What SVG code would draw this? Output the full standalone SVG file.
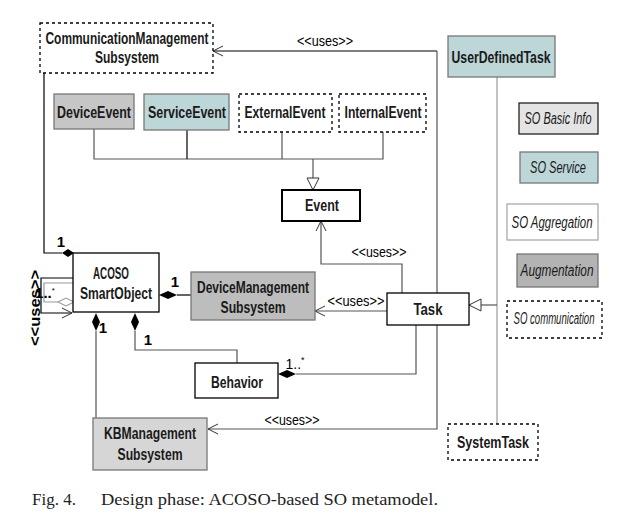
<svg xmlns="http://www.w3.org/2000/svg" width="619" height="531" viewBox="0 0 619 531">
<defs>
<style>
.t{font-family:"Liberation Sans",Arial,sans-serif;font-size:16px;font-weight:bold;fill:#1a1a1a;text-anchor:middle}
.i{font-style:italic;font-weight:normal}
.box{stroke:#000;stroke-width:1.3}
.gbox{stroke:#777;stroke-width:1.3}
.dash{fill:#fff;stroke:#000;stroke-width:1.3;stroke-dasharray:3,3}
.ln{fill:none;stroke:#555;stroke-width:1.2}
.lk{fill:none;stroke:#000;stroke-width:1.2}
.gray{fill:none;stroke:#999;stroke-width:1.2}
.lab{font-family:"Liberation Sans",Arial,sans-serif;font-size:14px;fill:#000;text-anchor:middle}
.num{font-family:"Liberation Sans",Arial,sans-serif;font-size:15px;font-weight:bold;fill:#000;text-anchor:middle}
.cap{font-family:"Liberation Serif","Times New Roman",serif;font-size:17px;fill:#222}
</style>
<marker id="open" markerWidth="12" markerHeight="12" refX="11" refY="6" orient="auto" markerUnits="userSpaceOnUse">
<path d="M1,1 L11,6 L1,11" fill="none" stroke="#333" stroke-width="1"/>
</marker>
<marker id="tri" markerWidth="14" markerHeight="14" refX="13" refY="7" orient="auto" markerUnits="userSpaceOnUse">
<path d="M1,1 L13,7 L1,13 Z" fill="#fff" stroke="#333" stroke-width="1"/>
</marker>
</defs>
<rect width="619" height="531" fill="#fff"/>

<g id="connectors">
<polyline class="lk" points="437,51 213,51" marker-end="url(#open)"/>
<text class="lab" x="325" y="46" textLength="56" lengthAdjust="spacingAndGlyphs">&lt;&lt;uses&gt;&gt;</text>
<polyline class="ln" points="437,51 437,429 208,429" marker-end="url(#open)"/>
<text class="lab" x="292" y="425" textLength="55" lengthAdjust="spacingAndGlyphs">&lt;&lt;uses&gt;&gt;</text>
<polyline class="lk" points="44,73 44,253 62,253"/>
<path d="M62,253 L68,249 L74,253 L68,257 Z" fill="#000"/>
<text class="num" x="61" y="247">1</text>
<polyline class="ln" points="94,129 94,159 383,159 383,132"/>
<line class="lk" x1="187" y1="130" x2="187" y2="159"/>
<line class="ln" x1="282" y1="132" x2="282" y2="159"/>
<line class="ln" x1="313" y1="159" x2="313" y2="190" marker-end="url(#tri)"/>
<line class="lk" x1="191" y1="295" x2="177" y2="295"/>
<path d="M159,295 L168,291 L177,295 L168,299 Z" fill="#000"/>
<text class="num" x="175" y="287">1</text>
<line class="ln" x1="96" y1="331" x2="96" y2="418"/>
<path d="M96,313 L100,322 L96,331 L92,322 Z" fill="#000"/>
<text class="num" x="103" y="333">1</text>
<polyline class="ln" points="135,331 135,350 237,350 237,363"/>
<path d="M135,313 L139,322 L135,331 L131,322 Z" fill="#000"/>
<text class="num" x="148" y="345">1</text>
<polyline class="ln" points="296,374 416,374 416,325"/>
<path d="M278,374 L287,370 L296,374 L287,378 Z" fill="#000"/>
<text class="lab" x="295" y="369" font-size="13" text-anchor="start">1..<tspan font-size="9" dy="-6">*</tspan></text>
<line class="ln" x1="387" y1="311" x2="315" y2="311" marker-end="url(#open)"/>
<text class="lab" x="356" y="306" textLength="57" lengthAdjust="spacingAndGlyphs">&lt;&lt;uses&gt;&gt;</text>
<polyline class="ln" points="402,293 402,264 321,264 321,221" marker-end="url(#open)"/>
<text class="lab" x="379" y="257" textLength="55" lengthAdjust="spacingAndGlyphs">&lt;&lt;uses&gt;&gt;</text>
<line class="gray" x1="497" y1="77" x2="497" y2="424"/>
<line class="ln" x1="497" y1="305" x2="469" y2="305" marker-end="url(#tri)"/>
<polyline class="lk" points="73,278 41,278 41,313 72,313" marker-end="url(#open)"/>
<polyline class="gray" points="73,283 44,283 44,302 58,302"/>
<path d="M58,302 L66,298 L74,302 L66,306 Z" fill="#fff" stroke="#999" stroke-width="1.1"/>
<text class="num" x="45" y="298" font-size="11" text-anchor="start">1..<tspan font-size="8" font-weight="normal" dy="-5">*</tspan></text>
<text class="num" x="0" y="0" font-size="15" textLength="76" lengthAdjust="spacingAndGlyphs" transform="translate(40,308) rotate(-90)">&lt;&lt;uses&gt;&gt;</text>
</g>

<g id="CommunicationManagementSubsystem">
<rect class="dash" x="40" y="23" width="173" height="50"/>
<text class="t" x="127" y="44" font-size="15" textLength="163" lengthAdjust="spacingAndGlyphs">CommunicationManagement</text>
<text class="t" x="127" y="63" font-size="15" textLength="64" lengthAdjust="spacingAndGlyphs">Subsystem</text>
</g>
<g id="DeviceEvent">
<rect class="gbox" x="54" y="94" width="80" height="35" fill="#c6c6c6"/>
<text class="t" x="94" y="118" textLength="74" lengthAdjust="spacingAndGlyphs">DeviceEvent</text>
</g>
<g id="ServiceEvent">
<rect class="gbox" x="144" y="94" width="85" height="36" fill="#bdd6d8"/>
<text class="t" x="187" y="118" textLength="78" lengthAdjust="spacingAndGlyphs">ServiceEvent</text>
</g>
<g id="ExternalEvent">
<rect class="dash" x="239" y="94" width="93" height="38"/>
<text class="t" x="285" y="118" textLength="81" lengthAdjust="spacingAndGlyphs">ExternalEvent</text>
</g>
<g id="InternalEvent">
<rect class="dash" x="339" y="94" width="87" height="38"/>
<text class="t" x="383" y="118" textLength="77" lengthAdjust="spacingAndGlyphs">InternalEvent</text>
</g>
<g id="Event">
<rect x="282" y="190" width="78" height="31" fill="#fff" stroke="#000" stroke-width="2"/>
<text class="t" x="322" y="211" font-size="15" textLength="34" lengthAdjust="spacingAndGlyphs">Event</text>
</g>
<g id="ACOSOSmartObject">
<rect class="box" x="73" y="253" width="86" height="59" fill="#fff"/>
<text class="t" x="111" y="279" textLength="36" lengthAdjust="spacingAndGlyphs">ACOSO</text>
<text class="t" x="116" y="299" textLength="72" lengthAdjust="spacingAndGlyphs">SmartObject</text>
</g>
<g id="DeviceManagementSubsystem">
<rect class="gbox" x="191" y="272" width="124" height="48" fill="#bdbdbd"/>
<text class="t" x="253" y="293" textLength="112" lengthAdjust="spacingAndGlyphs">DeviceManagement</text>
<text class="t" x="253" y="313" textLength="65" lengthAdjust="spacingAndGlyphs">Subsystem</text>
</g>
<g id="Task">
<rect class="box" x="387" y="293" width="82" height="32" fill="#fff"/>
<text class="t" x="428" y="315" textLength="29" lengthAdjust="spacingAndGlyphs">Task</text>
</g>
<g id="Behavior">
<rect class="box" x="195" y="363" width="83" height="35" fill="#fff"/>
<text class="t" x="237" y="388" textLength="52" lengthAdjust="spacingAndGlyphs">Behavior</text>
</g>
<g id="KBManagementSubsystem">
<rect class="gbox" x="93" y="418" width="114" height="52" fill="#d6d6d6"/>
<text class="t" x="150" y="439" textLength="92" lengthAdjust="spacingAndGlyphs">KBManagement</text>
<text class="t" x="150" y="460" textLength="65" lengthAdjust="spacingAndGlyphs">Subsystem</text>
</g>
<g id="UserDefinedTask">
<rect class="gbox" x="448" y="36" width="107" height="41" fill="#bdd6d8"/>
<text class="t" x="501" y="63" textLength="99" lengthAdjust="spacingAndGlyphs">UserDefinedTask</text>
</g>
<g id="SystemTask">
<rect class="dash" x="448" y="424" width="90" height="36"/>
<text class="t" x="493" y="448" textLength="72" lengthAdjust="spacingAndGlyphs">SystemTask</text>
</g>
<g id="legend">
<g id="SOBasicInfo">
<rect x="519" y="103" width="79" height="31" fill="#e4e4e4" stroke="#222" stroke-width="1.3"/>
<text class="t i" x="558" y="124" font-size="13" textLength="67" lengthAdjust="spacingAndGlyphs">SO Basic Info</text>
</g>
<g id="SOService">
<rect class="gbox" x="520" y="152" width="78" height="31" fill="#bdd6d8"/>
<text class="t i" x="558" y="173" font-size="13" textLength="56" lengthAdjust="spacingAndGlyphs">SO Service</text>
</g>
<g id="SOAggregation">
<rect x="507" y="204" width="91" height="36" fill="#fff" stroke="#aaa" stroke-width="1.3"/>
<text class="t i" x="552" y="228" font-size="13" textLength="81" lengthAdjust="spacingAndGlyphs">SO Aggregation</text>
</g>
<g id="Augmentation">
<rect class="gbox" x="517" y="254" width="81" height="33" fill="#b3b3b3"/>
<text class="t i" x="557" y="276" font-size="14" textLength="73" lengthAdjust="spacingAndGlyphs">Augmentation</text>
</g>
<g id="SOcommunication">
<rect class="dash" x="507" y="301" width="95" height="37"/>
<text class="t i" x="554" y="324" font-size="11" textLength="81" lengthAdjust="spacingAndGlyphs">SO communication</text>
</g>
</g>
<text class="cap" x="32" y="505">Fig. 4.</text>
<text class="cap" x="101" y="505" textLength="337" lengthAdjust="spacingAndGlyphs">Design phase: ACOSO-based SO metamodel.</text>
</svg>
